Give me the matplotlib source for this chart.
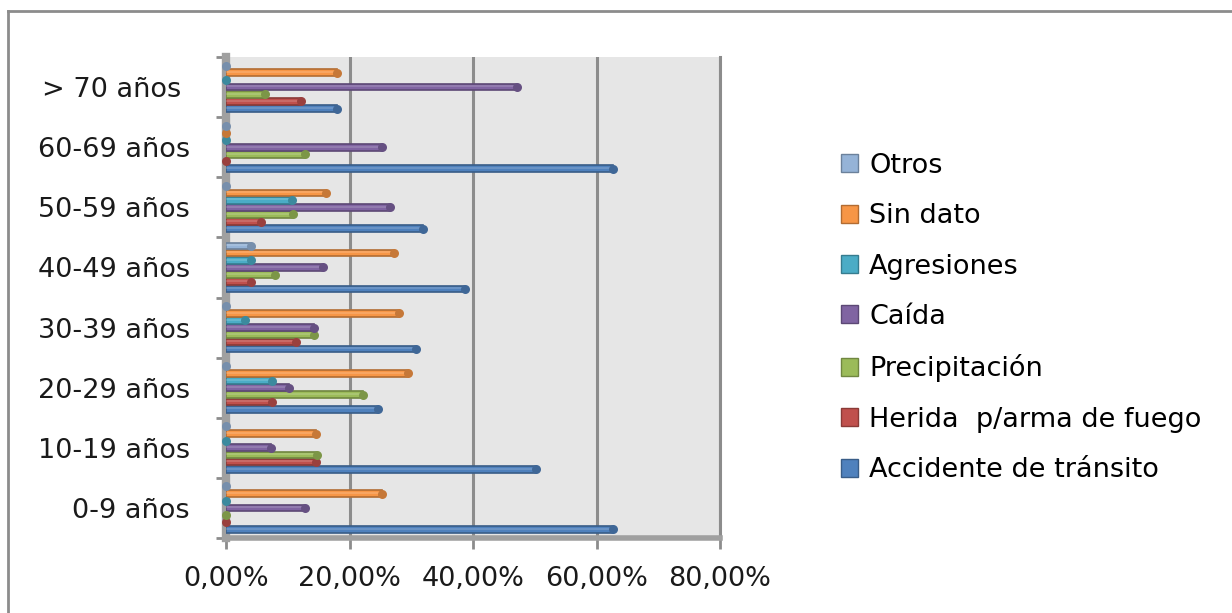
import matplotlib.pyplot as plt
import matplotlib.colors as mcolors
from matplotlib.lines import Line2D
from matplotlib.patches import Patch
import numpy as np

plt.rcParams["font.family"] = ["DejaVu Sans"]

# age groups, bottom to top
grupos = ["0-9 años", "10-19 años", "20-29 años", "30-39 años",
          "40-49 años", "50-59 años", "60-69 años", "> 70 años "]

# series, drawn bottom to top inside each group (values in %)
series = ["Accidente de tránsito", "Herida  p/arma de fuego", "Precipitación",
          "Caída", "Agresiones", "Sin dato", "Otros"]

accidente = [62.7, 50.2, 24.6, 30.8, 38.7, 31.9, 62.7, 18.0]
herida = [0.0, 14.6, 7.5, 11.3, 4.1, 5.7, 0.0, 12.2]
precipitacion = [0.0, 14.7, 22.2, 14.3, 7.9, 10.9, 12.8, 6.3]
caida = [12.8, 7.3, 10.2, 14.3, 15.7, 26.6, 25.3, 47.2]
agresiones = [0.0, 0.0, 7.5, 3.1, 4.1, 10.7, 0.0, 0.0]
sin_dato = [25.3, 14.6, 29.5, 28.0, 27.2, 16.2, 0.0, 18.0]
otros = [0.0, 0.0, 0.0, 0.0, 4.1, 0.0, 0.0, 0.0]

valores = [accidente, herida, precipitacion, caida, agresiones, sin_dato, otros]
colores = ["#4F81BD", "#C0504D", "#9BBB59", "#8064A2", "#4BACC6", "#F79646", "#95B3D7"]


def oscurecer(c, f=0.72):
    r, g, b = mcolors.to_rgb(c)
    return (r * f, g * f, b * f)


W, H = 1232, 613
fig = plt.figure(figsize=(W / 100, H / 100), dpi=100)
fig.patch.set_facecolor("white")

# outer chart border (only top and left visible)
fig.add_artist(Line2D([8 / W, 8 / W], [0, 1 - 11 / H], color="#8C8C8C", lw=2))
fig.add_artist(Line2D([8 / W, 1], [1 - 11 / H, 1 - 11 / H], color="#8C8C8C", lw=2))

ax = fig.add_axes([226 / W, 1 - 538 / H, (720 - 226) / W, (538 - 57) / H])
ax.set_facecolor("#E6E6E6")

paso = 0.119
alto = 0.112
y = np.arange(len(grupos))
for i, (vals, col) in enumerate(zip(valores, colores)):
    yy = y + (i - 3) * paso
    ax.barh(yy, vals, height=alto, color=col, edgecolor=oscurecer(col),
            linewidth=1.2, zorder=3)
    # lighter stripe for the cylinder look
    ax.barh(yy + alto * 0.1, vals, height=alto * 0.3,
            color=mcolors.to_rgba("white", 0.15), linewidth=0, zorder=4)
    # rounded end cap
    ax.scatter(vals, yy, s=42, color=oscurecer(col, 0.8), zorder=5,
               linewidths=0, clip_on=False)

ax.set_xlim(0, 80)
ax.set_ylim(-0.5, len(grupos) - 0.5)

ax.xaxis.grid(True, color="#8C8C8C", lw=2.2, zorder=1)
ax.set_axisbelow(True)

ax.set_xticks([0, 20, 40, 60, 80])
ax.set_xticklabels(["0,00%", "20,00%", "40,00%", "60,00%", "80,00%"])
ax.set_yticks(y)
ax.set_yticklabels(grupos)
ax.set_yticks(np.arange(-0.5, len(grupos)), minor=True)

ax.tick_params(axis="x", length=8, width=2, color="#8C8C8C", pad=12,
               labelsize=19.5, labelcolor="#1A1A1A")
ax.tick_params(axis="y", which="major", length=0, pad=26,
               labelsize=19.5, labelcolor="#1A1A1A")
ax.tick_params(axis="y", which="minor", length=7, width=2, color="#8C8C8C")

ax.spines["top"].set_visible(False)
ax.spines["left"].set_color("#A0A0A0")
ax.spines["left"].set_linewidth(6)
ax.spines["bottom"].set_color("#A0A0A0")
ax.spines["bottom"].set_linewidth(4)
ax.spines["right"].set_color("#8C8C8C")
ax.spines["right"].set_linewidth(2.2)

handles = [Patch(facecolor=colores[i], edgecolor=oscurecer(colores[i]), label=series[i])
           for i in range(len(series) - 1, -1, -1)]
fig.legend(handles=handles, loc="upper left", bbox_to_anchor=(830 / W, 1 - 142 / H),
           frameon=False, fontsize=19.5, handlelength=0.65, handleheight=0.65,
           handletextpad=0.4, labelspacing=0.9, borderaxespad=0)

fig.savefig("out.png", dpi=100)
